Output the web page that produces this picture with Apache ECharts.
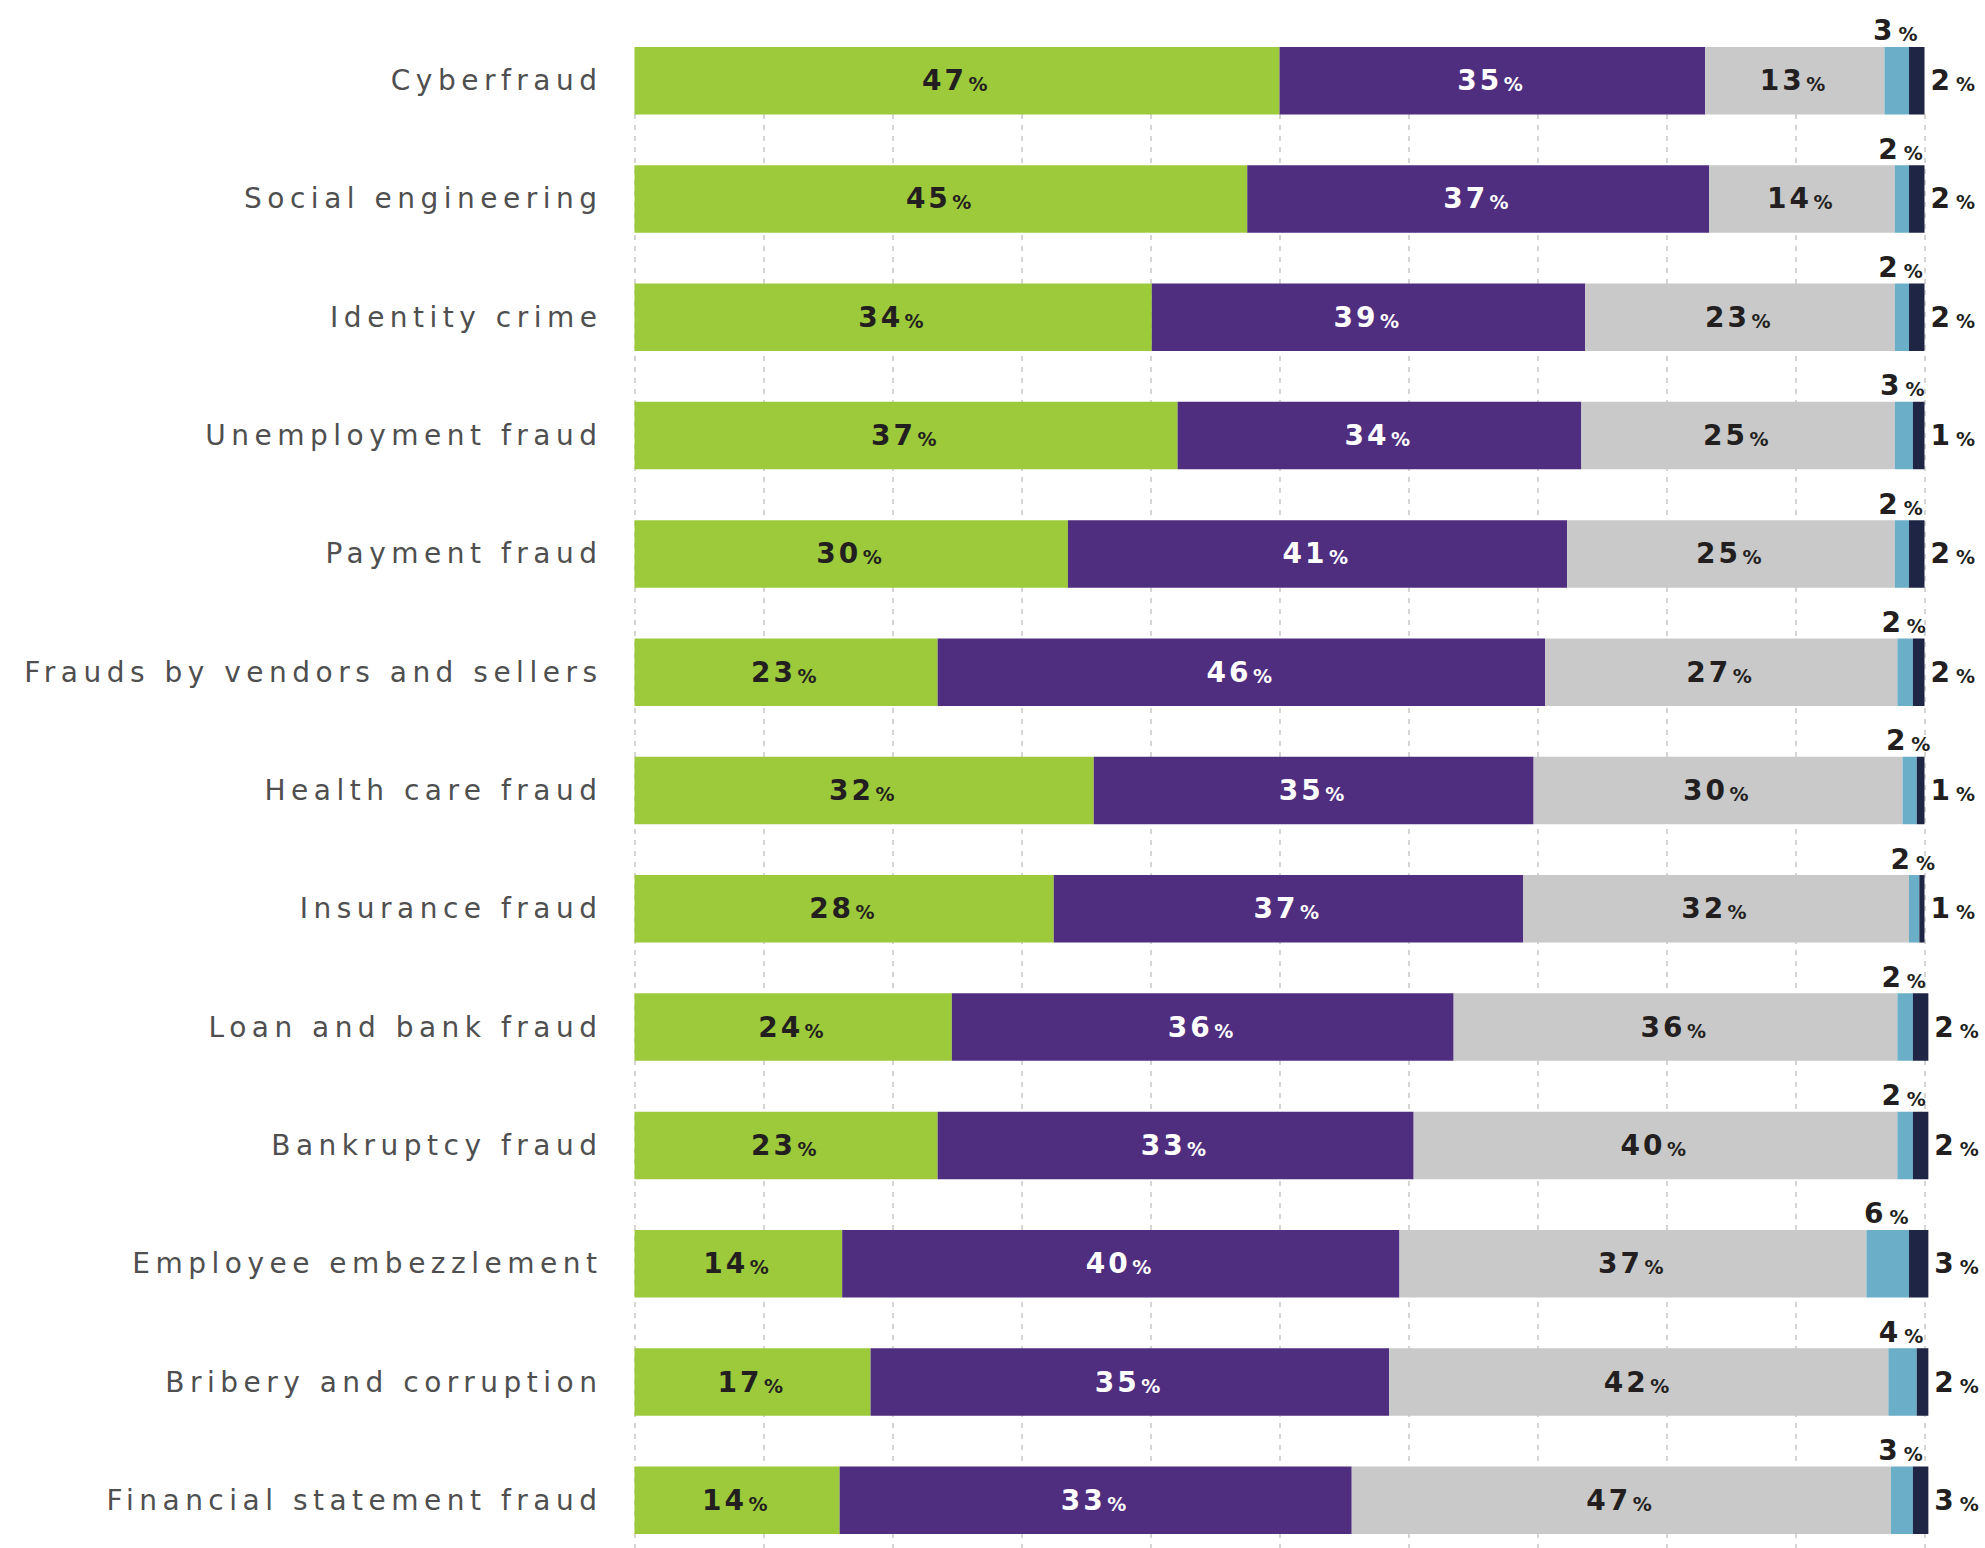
<!DOCTYPE html>
<html>
<head>
<meta charset="utf-8">
<title>Fraud types</title>
<style>
  html, body { margin: 0; padding: 0; background: #fff; }
  #chart { width: 1985px; height: 1548px; }
  /* the original uses a wide, tracked-out face: widen the text a bit */
  #chart text { letter-spacing: 5.5px; }
  #chart text[style*="bold"] { letter-spacing: 3px; }
</style>
<script src="https://cdn.jsdelivr.net/npm/echarts@6/dist/echarts.min.js"></script>
</head>
<body>
<div id="chart"></div>
<script>
const categories = [
  "Cyberfraud",
  "Social engineering",
  "Identity crime",
  "Unemployment fraud",
  "Payment fraud",
  "Frauds by vendors and sellers",
  "Health care fraud",
  "Insurance fraud",
  "Loan and bank fraud",
  "Bankruptcy fraud",
  "Employee embezzlement",
  "Bribery and corruption",
  "Financial statement fraud",
];

// bar lengths as drawn in the picture (%)
const greenBars = [50.0, 47.5, 40.1, 42.1, 33.6, 23.5, 35.6, 32.5, 24.6, 23.5, 16.1, 18.3, 15.9];
const purpleBars = [33.0, 35.8, 33.6, 31.3, 38.7, 47.1, 34.1, 36.4, 38.9, 36.9, 43.2, 40.2, 39.7];
const greyBars = [13.9, 14.4, 24.0, 24.3, 25.4, 27.3, 28.6, 29.9, 34.4, 37.5, 36.2, 38.7, 41.8];
const blueBars = [1.9, 1.1, 1.1, 1.4, 1.1, 1.2, 1.1, 0.8, 1.2, 1.2, 3.3, 2.2, 1.7];
const navyBars = [1.2, 1.2, 1.2, 0.9, 1.2, 0.9, 0.6, 0.4, 1.2, 1.2, 1.5, 0.9, 1.2];

// percentages printed on the bars
const greenLabels = [47, 45, 34, 37, 30, 23, 32, 28, 24, 23, 14, 17, 14];
const purpleLabels = [35, 37, 39, 34, 41, 46, 35, 37, 36, 33, 40, 35, 33];
const greyLabels = [13, 14, 23, 25, 25, 27, 30, 32, 36, 40, 37, 42, 47];
const blueLabels = [3, 2, 2, 3, 2, 2, 2, 2, 2, 2, 6, 4, 3];
const navyLabels = [2, 2, 2, 1, 2, 2, 1, 1, 2, 2, 3, 2, 3];

const FONT = "DejaVu Sans";

const makeSeries = (name, values, printed, color, textColor, position, distance) => ({
  name: name,
  type: "bar",
  stack: "total",
  xAxisIndex: 0,
  yAxisIndex: 0,
  data: values,
  barWidth: 67.5,
  clip: false,
  itemStyle: { color: color },
  label: {
    show: true,
    position: position,
    distance: distance,
    formatter: (p) => "{n|" + printed[p.dataIndex] + "}{p|%}",
    rich: {
      n: {
        fontFamily: FONT,
        fontSize: 28,
        fontWeight: "bold",
        color: textColor,
        verticalAlign: "bottom",
      },
      // left padding leaves room for the tracking on the digits
      p: {
        fontFamily: FONT,
        fontSize: 19,
        fontWeight: "bold",
        color: textColor,
        verticalAlign: "bottom",
        padding: [0, 0, 1, 6],
      },
    },
  },
});

const chart = echarts.init(document.getElementById("chart"), null, { renderer: "svg" });

const option = {
  backgroundColor: "#ffffff",
  animation: false,
  grid: [
    { left: 634.5, right: 60.5, top: 21.5, height: 1538, outerBoundsMode: "none" },
    { left: 634.5, right: 60.5, top: 114, bottom: 0, outerBoundsMode: "none" },
  ],
  xAxis: [
    { gridIndex: 0, type: "value", min: 0, max: 100, show: false },
    {
      gridIndex: 1,
      type: "value",
      min: 0,
      max: 100,
      interval: 10,
      axisLine: { show: false },
      axisTick: { show: false },
      axisLabel: { show: false },
      splitLine: {
        show: true,
        lineStyle: { color: "#d5d5d5", width: 2, type: [5, 6] },
      },
    },
  ],
  yAxis: [
    {
      gridIndex: 0,
      type: "category",
      data: categories,
      inverse: true,
      axisLine: { show: false },
      axisTick: { show: false },
      splitLine: { show: false },
      axisLabel: {
        fontFamily: FONT,
        fontSize: 28,
        color: "#4f4f4f",
        margin: 32,
        padding: [0, 0, 8, 0],
      },
    },
    { gridIndex: 1, type: "value", show: false },
  ],
  series: [
    makeSeries("Segment 1", greenBars, greenLabels, "#9dca3b", "#231f20", "inside", 0),
    makeSeries("Segment 2", purpleBars, purpleLabels, "#4f2d7f", "#ffffff", "inside", 0),
    makeSeries("Segment 3", greyBars, greyLabels, "#c9c9c9", "#231f20", "inside", 0),
    makeSeries("Segment 4", blueBars, blueLabels, "#6aaec7", "#231f20", "top", 2),
    makeSeries("Segment 5", navyBars, navyLabels, "#1f2545", "#231f20", "right", 6),
  ],
};

chart.setOption(option);
window.addEventListener("resize", () => chart.resize());
</script>
</body>
</html>
